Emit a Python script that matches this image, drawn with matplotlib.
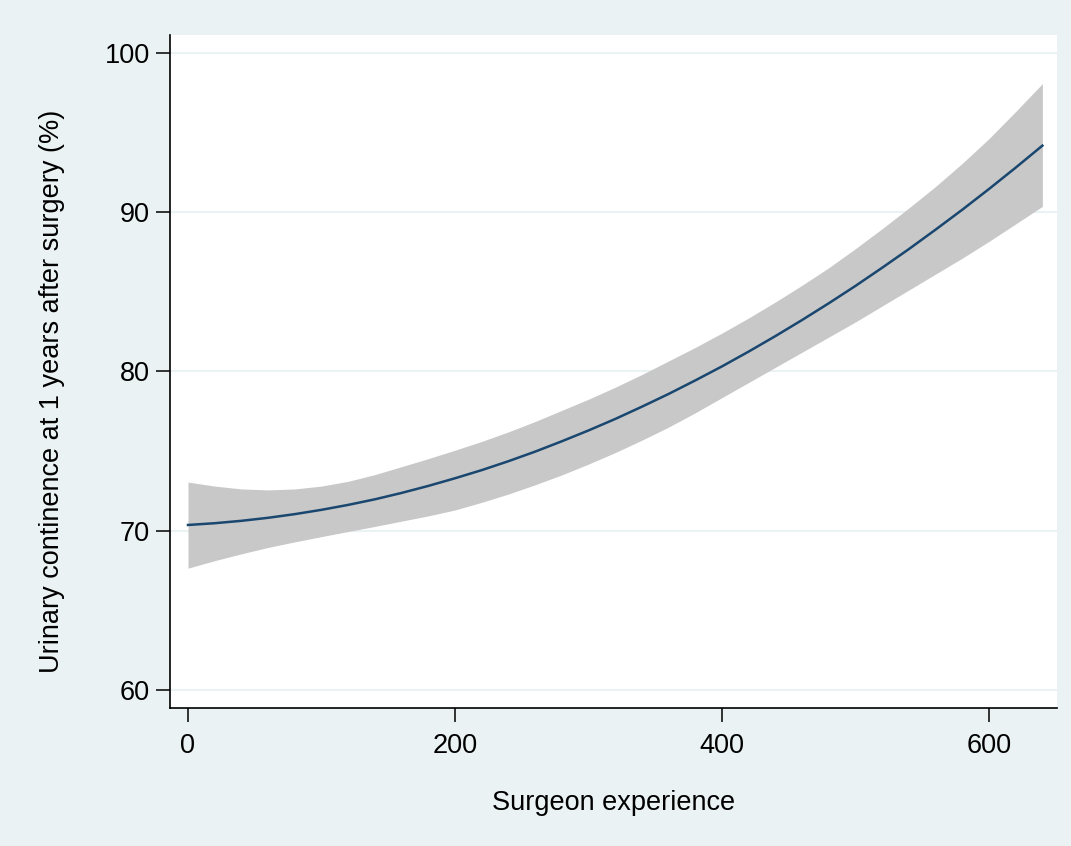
import matplotlib

matplotlib.use("Agg")
import matplotlib.pyplot as plt

# Predicted continence vs. surgeon experience, with 95% confidence band
experience = [0, 20, 40, 60, 80, 100, 120, 140, 160, 180, 200, 220, 240, 260, 280, 300, 320,
              340, 360, 380, 400, 420, 440, 460, 480, 500, 520, 540, 560, 580, 600, 620, 640]
predicted = [70.36, 70.47, 70.62, 70.81, 71.04, 71.31, 71.62, 71.97, 72.37, 72.81, 73.29,
             73.80, 74.36, 74.96, 75.61, 76.29, 77.01, 77.78, 78.58, 79.43, 80.31, 81.24,
             82.21, 83.22, 84.27, 85.36, 86.50, 87.67, 88.89, 90.14, 91.44, 92.78, 94.16]
upper = [73.05, 72.8, 72.62, 72.56, 72.62, 72.8, 73.1, 73.52, 74.02, 74.52, 75.05,
         75.6, 76.2, 76.85, 77.55, 78.25, 79.0, 79.8, 80.65, 81.5, 82.4, 83.35,
         84.35, 85.4, 86.5, 87.7, 88.95, 90.25, 91.6, 93.05, 94.6, 96.3, 98.05]
lower = [67.65, 68.12, 68.55, 68.95, 69.3, 69.63, 69.95, 70.27, 70.6, 70.93, 71.3,
         71.78, 72.3, 72.88, 73.5, 74.18, 74.9, 75.68, 76.5, 77.4, 78.35, 79.3,
         80.25, 81.2, 82.15, 83.1, 84.1, 85.1, 86.1, 87.1, 88.15, 89.25, 90.35]
y_ticks = [60, 70, 80, 90, 100]
x_ticks = [0, 200, 400, 600]

plt.rcParams["font.family"] = ["Liberation Sans", "DejaVu Sans"]

fig = plt.figure(figsize=(10.71, 8.46), dpi=100, facecolor="#EAF2F3")
ax = fig.add_axes([0.1587, 0.163, 0.8283, 0.7956])
ax.set_facecolor("white")

ax.fill_between(experience, lower, upper, color="#C8C8C8", linewidth=0, zorder=2)
ax.plot(experience, predicted, color="#1A476F", linewidth=1.8, zorder=3)

ax.set_xlim(-13.5, 651)
ax.set_ylim(58.87, 101.1)
ax.set_yticks(y_ticks)
ax.set_xticks(x_ticks)
ax.yaxis.grid(True, color="#EAF2F3", linewidth=1.5, zorder=1)
ax.set_axisbelow(True)

for side in ["top", "right"]:
    ax.spines[side].set_visible(False)
for side in ["left", "bottom"]:
    ax.spines[side].set_linewidth(1.2)

ax.tick_params(axis="both", length=10, width=1.1, labelsize=19.5)
ax.tick_params(axis="y", pad=4.5)
ax.tick_params(axis="x", pad=8)
ax.set_xlabel("Surgeon experience", fontsize=19.5, labelpad=22)
ax.set_ylabel("Urinary continence at 1 years after surgery (%)", fontsize=19.5)
ax.yaxis.set_label_coords(-0.118, 0.471)

fig.savefig("out.png", dpi=100, facecolor=fig.get_facecolor())
